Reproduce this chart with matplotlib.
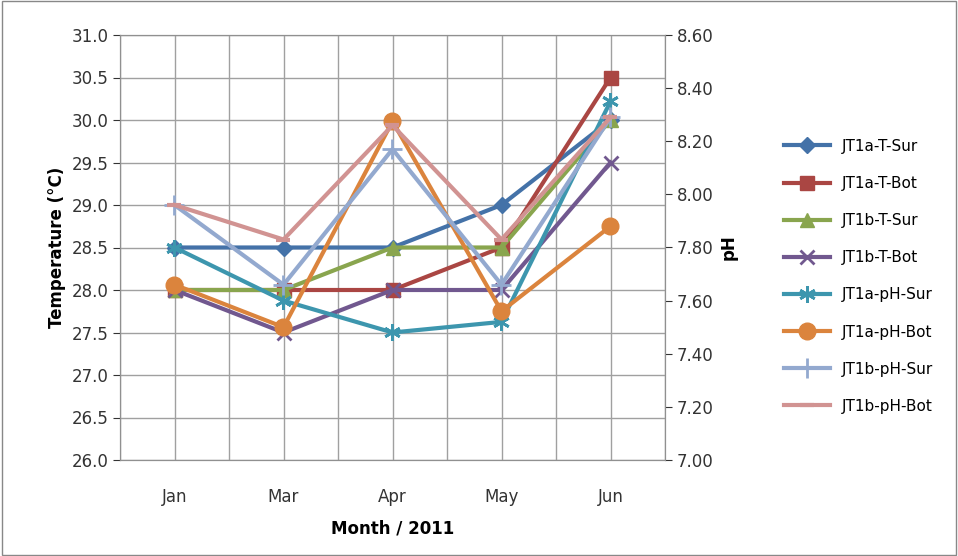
import matplotlib.pyplot as plt
import numpy as np

months = ["Jan", "Mar", "Apr", "May", "Jun"]
t_a_sur = [28.5, 28.5, 28.5, 29.0, 30.0]
t_a_bot = [28.0, 28.0, 28.0, 28.5, 30.5]
t_b_sur = [28.0, 28.0, 28.5, 28.5, 30.0]
t_b_bot = [28.0, 27.5, 28.0, 28.0, 29.5]
ph_a_sur = [7.80, 7.60, 7.48, 7.52, 8.35]
ph_a_bot = [7.66, 7.50, 8.275, 7.56, 7.88]
ph_b_sur = [7.96, 7.66, 8.17, 7.66, 8.29]
ph_b_bot = [7.96, 7.83, 8.26, 7.83, 8.29]

fig = plt.figure(figsize=(9.58, 5.56), dpi=100)
ax = fig.add_axes([120/958, 96/556, 545/958, 425/556])
ax2 = ax.twinx()
x = np.arange(len(months))

lines = []
lines += ax.plot(x, t_a_sur, color="#4472a8", marker="D", ms=8, lw=3, label="JT1a-T-Sur")
lines += ax.plot(x, t_a_bot, color="#aa4643", marker="s", ms=10, lw=3, label="JT1a-T-Bot")
lines += ax.plot(x, t_b_sur, color="#89a54e", marker="^", ms=10, lw=3, label="JT1b-T-Sur")
lines += ax.plot(x, t_b_bot, color="#71588f", marker="x", ms=10, mew=2, lw=3, label="JT1b-T-Bot")
lines += ax2.plot(x, ph_a_sur, color="#3d96ae", marker=(6, 2, 0), ms=12, mew=2, lw=3, label="JT1a-pH-Sur")
lines += ax2.plot(x, ph_a_bot, color="#db843d", marker="o", ms=12, lw=3, label="JT1a-pH-Bot")
lines += ax2.plot(x, ph_b_sur, color="#93a9cf", marker="+", ms=14, mew=2, lw=3, label="JT1b-pH-Sur")
lines += ax2.plot(x, ph_b_bot, color="#d19392", marker="_", ms=10, mew=3, lw=3, label="JT1b-pH-Bot")

ax.set_xlim(-0.5, 4.5)
ax.set_ylim(26, 31)
ax.set_yticks(np.arange(26, 31.01, 0.5))
ax.set_yticklabels([f"{v:.1f}" for v in np.arange(26, 31.01, 0.5)])
ax2.set_ylim(7.0, 8.6)
ax2.set_yticks(np.arange(7.0, 8.61, 0.2))
ax2.set_yticklabels([f"{v:.2f}" for v in np.arange(7.0, 8.61, 0.2)])
ax.set_xticks(x)
ax.set_xticklabels(months)
ax.set_xticks(np.arange(-0.5, 4.6, 0.5), minor=True)
ax.grid(True, which="both", axis="x", color="#a0a0a0", lw=1)
ax.grid(True, which="major", axis="y", color="#a0a0a0", lw=1)
ax.set_axisbelow(True)
for a in (ax, ax2):
    for s in a.spines.values():
        s.set_color("#909090")
    a.tick_params(labelsize=12, colors="#333333", length=5)
ax.tick_params(axis="x", which="both", length=0, pad=20)

ax.set_xlabel("Month / 2011", fontsize=12, fontweight="bold", labelpad=10)
ax.set_ylabel("Temperature (°C)", fontsize=12, fontweight="bold")
ax2.set_ylabel("pH", fontsize=12, fontweight="bold")

fig.legend(handles=lines, loc="upper left", bbox_to_anchor=(770/958, 1 - 125/556),
           frameon=False, fontsize=11, labelspacing=1.45, handlelength=3)
fig.patches.append(plt.Rectangle((0.002, 0.002), 0.996, 0.996, transform=fig.transFigure,
                                 fill=False, edgecolor="#888888", lw=1))
fig.savefig("out.png", dpi=100)
